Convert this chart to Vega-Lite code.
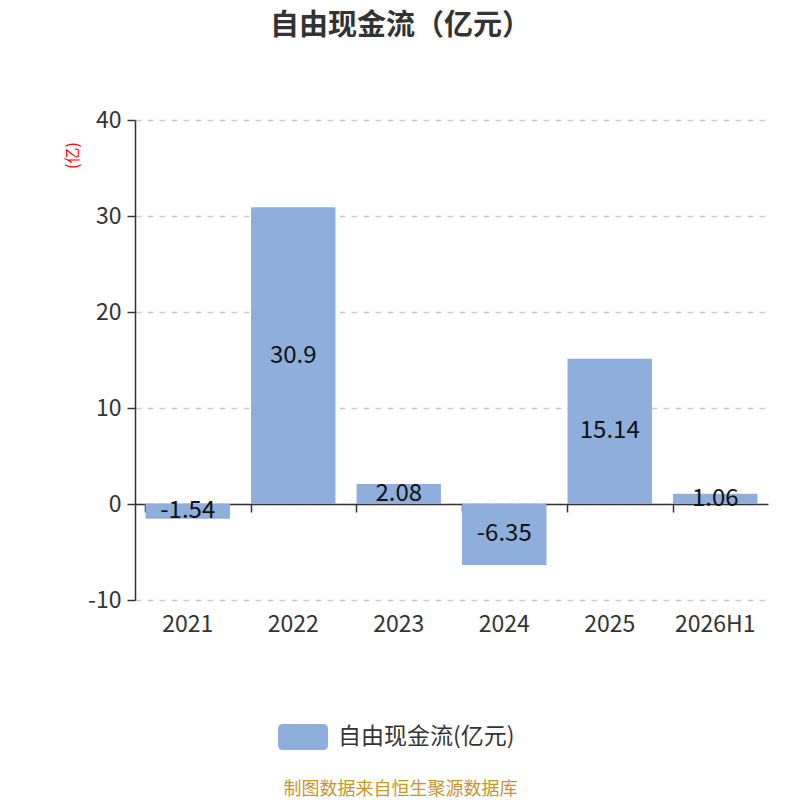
{
  "$schema": "https://vega.github.io/schema/vega-lite/v6.json",
  "width": 633,
  "height": 480,
  "autosize": "none",
  "padding": {"left": 135, "top": 120, "right": 32, "bottom": 200},
  "background": "#ffffff",
  "config": {
    "font": "Noto Sans CJK SC",
    "view": {"stroke": null},
    "locale": {
      "number": {"decimal": ".", "thousands": ",", "grouping": [3], "currency": ["", ""], "minus": "-"}
    }
  },
  "title": {
    "text": "自由现金流（亿元）",
    "fontSize": 29,
    "fontWeight": "bold",
    "color": "#333333",
    "anchor": "middle",
    "dx": -51,
    "offset": 68
  },
  "data": {
    "values": [
      {"year": "2021", "value": -1.54},
      {"year": "2022", "value": 30.9},
      {"year": "2023", "value": 2.08},
      {"year": "2024", "value": -6.35},
      {"year": "2025", "value": 15.14},
      {"year": "2026H1", "value": 1.06}
    ]
  },
  "layer": [
    {
      "mark": {"type": "bar"},
      "encoding": {
        "x": {
          "field": "year",
          "type": "nominal",
          "sort": null,
          "scale": {"paddingInner": 0.2, "paddingOuter": 0.1},
          "axis": {
            "orient": "bottom",
            "offset": -96,
            "labels": false,
            "title": null,
            "grid": false,
            "bandPosition": 0,
            "domainColor": "#333333",
            "domainWidth": 1.5,
            "tickColor": "#333333",
            "tickWidth": 1.5,
            "tickSize": 8
          }
        },
        "y": {
          "field": "value",
          "type": "quantitative",
          "scale": {"domain": [-10, 40], "nice": false},
          "axis": {
            "values": [-10, 0, 10, 20, 30, 40],
            "grid": true,
            "gridDash": [6, 6],
            "gridColor": "#cccccc",
            "gridWidth": 1.5,
            "domainColor": "#333333",
            "domainWidth": 1.5,
            "tickColor": "#333333",
            "tickWidth": 1.5,
            "tickSize": 8,
            "labelFontSize": 23,
            "labelColor": "#333333",
            "labelPadding": 6,
            "title": "(亿)",
            "titleColor": "#ff0000",
            "titleFontSize": 16,
            "titleFontWeight": "normal",
            "titleAngle": -90,
            "titleAlign": "center",
            "titleBaseline": "middle",
            "titleX": -63,
            "titleY": 35
          }
        },
        "color": {
          "datum": "自由现金流(亿元)",
          "type": "nominal",
          "scale": {"range": ["#8eaedb"]},
          "legend": {
            "title": null,
            "orient": "none",
            "legendX": 143,
            "legendY": 592,
            "symbolType": "M-0.8,-0.52 L0.8,-0.52 Q1,-0.52 1,-0.32 L1,0.32 Q1,0.52 0.8,0.52 L-0.8,0.52 Q-1,0.52 -1,0.32 L-1,-0.32 Q-1,-0.52 -0.8,-0.52 Z",
            "symbolSize": 2500,
            "symbolStrokeWidth": 0,
            "symbolOpacity": 1,
            "labelFontSize": 23,
            "labelColor": "#333333",
            "labelOffset": 10,
            "labelLimit": 0
          }
        }
      }
    },
    {
      "transform": [{"calculate": "datum.value / 2", "as": "mid"}],
      "mark": {"type": "text", "fontSize": 24, "color": "#111111", "baseline": "middle"},
      "encoding": {
        "x": {
          "field": "year",
          "type": "nominal",
          "sort": null,
          "axis": {
            "orient": "bottom",
            "domain": false,
            "ticks": false,
            "grid": false,
            "labelAngle": 0,
            "labelFontSize": 23,
            "labelColor": "#333333",
            "labelPadding": 13,
            "title": "制图数据来自恒生聚源数据库",
            "titleColor": "#c8952c",
            "titleFontSize": 18,
            "titleFontWeight": "normal",
            "titleAlign": "center",
            "titleBaseline": "middle",
            "titleX": 265,
            "titleY": 189
          }
        },
        "y": {"field": "mid", "type": "quantitative", "axis": null},
        "text": {"field": "value", "type": "quantitative"}
      }
    }
  ],
  "resolve": {"axis": {"x": "independent", "y": "independent"}}
}
